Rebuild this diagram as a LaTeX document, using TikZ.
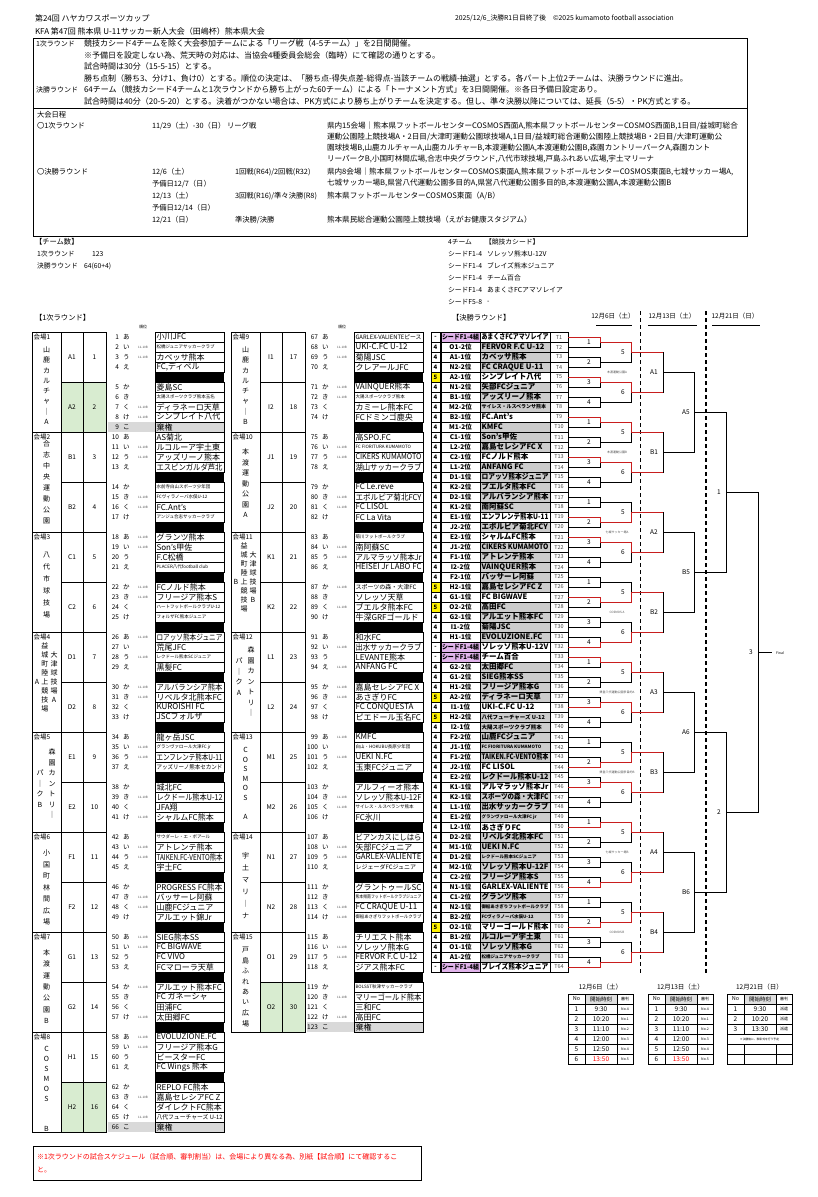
\documentclass[tikz,border=0pt]{standalone}
\usepackage{fontspec}
\usepackage{graphicx}
\setmainfont{Noto Sans CJK JP}
\usetikzlibrary{calc}
\definecolor{seedpink}{RGB}{225,180,235}
\definecolor{grp}{RGB}{216,236,208}
\definecolor{rline}{RGB}{200,30,30}
\newcommand\fs[1]{\fontsize{#1}{#1}\selectfont}
\newsavebox\nb
\newcommand\fitw[2]{\sbox\nb{#2}\ifdim\wd\nb>#1\relax\resizebox{#1}{\height}{\usebox\nb}\else\usebox\nb\fi}
\newcommand\szn{\fs{8}}
\newcommand\szs{\fs{6}}
\newcommand\szt{\fs{4.5}}
% team row in 1st-round table
\newcommand\team[7]{%
 \pgfmathsetmacro\yy{337+10*#2}%
 \node[anchor=east,font=\fs{6.5}] (num#3) at ({#1+119},\yy) {#3};
 \node[anchor=west,font=\fs{6.5}] (kana#3) at ({#1+123},\yy) {#4};
 \ifnum#5=1 \node[font=\fs{3},text=black!70] (lab#3) at ({#1+143},\yy) {11-10B};\fi
 \node[tbox] (tm#3) at ({#1+189.5},\yy) {\makebox[66pt][l]{\csname sz#6\endcsname\fitw{66pt}{#7}}};}
\newcommand\blkrow[2]{\fill ({#1+155},{332+10*#2}) rectangle ({#1+224},{342+10*#2});}
\newcommand\kiken[3]{%
 \pgfmathsetmacro\yy{337+10*#2}%
 \fill[gray!30] ({#1+108},{332+10*#2}) rectangle ({#1+224},{342+10*#2});
 \node[anchor=east,font=\fs{6.5}] (num#3) at ({#1+119},\yy) {#3};
 \node[anchor=west,font=\fs{6.5}] (kana#3) at ({#1+123},\yy) {こ};
 \node[tbox,fill=gray!30] (tm#3) at ({#1+189.5},\yy) {\makebox[66pt][l]{\szn 棄権}};}
% venue cell
\newcommand\venue[4]{% off, row0, name, label
 \draw[thick] ({#1+32},{332+10*#2}) rectangle ({#1+61},{432+10*#2});
 \node[anchor=west,font=\fs{6.5}] (#3) at ({#1+33.5},{337.5+10*#2}) {#4};}
\newcommand\vch[5]{\foreach \c [count=\i from 0] in {#5} {\node[font=\fs{7}] (#1\i) at (#2,{#3+#4*\i}) {\c};}}
% group cells
\newcommand\grp[5]{% off,row0,label,num,fill
 \draw[thick,fill=#5] ({#1+61},{332+10*#2}) rectangle ({#1+83},{382+10*#2});
 \draw[thick,fill=#5] ({#1+83},{332+10*#2}) rectangle ({#1+106},{382+10*#2});
 \node[font=\fs{6.5}] (g#3) at ({#1+72},{357+10*#2}) {#3};
 \node[font=\fs{6.5}] (gn#3) at ({#1+94.5},{357+10*#2}) {#4};}
% bracket list row
\newcommand\bl[7]{%
 \pgfmathsetmacro\yy{337+10*(#1-1)}%
 \node[stbox,#2] (st#1) at (435.5,\yy) {#3};
 \node[lbbox,#5] (lb#1) at (460.5,\yy) {\fitw{37pt}{#4}};
 \node[btbox,#7] (bt#1) at (515,\yy) {\makebox[67pt][l]{\fitw{67pt}{#6}}};
 \node[tcbox] (tc#1) at (559,\yy) {T#1};}
\begin{document}
\begin{tikzpicture}[x=1pt,y=-1pt,every node/.style={inner sep=0pt,outer sep=0pt},
 tbox/.style={draw,line width=0.7pt,minimum width=69pt,minimum height=10pt,anchor=center},
 stbox/.style={draw,line width=0.7pt,minimum width=9pt,minimum height=10pt,font=\fs{6}\bfseries},
 lbbox/.style={draw,line width=0.7pt,minimum width=39pt,minimum height=10pt,font=\fs{6.5}\bfseries},
 btbox/.style={draw,line width=0.7pt,minimum width=70pt,minimum height=10pt,font=\fs{7.5}\bfseries},
 tcbox/.style={draw,line width=0.7pt,minimum width=18pt,minimum height=10pt,font=\fs{5.5},text=black!70},
 wh/.style={fill=white}, gy/.style={fill=gray!40}, sd/.style={fill=seedpink}, yl/.style={fill=yellow},
 bk/.style={line width=0.6pt}, rd/.style={line width=0.8pt,draw=rline},
 mlbl/.style={font=\fs{6.5}},
 hd/.style={anchor=west,font=\fs{7.3}},
 sm/.style={anchor=west,font=\fs{6.8}},
 rl/.style={anchor=west,font=\fs{8}},
 rlab/.style={anchor=west,font=\fs{7}},
 vt/.style={anchor=west,font=\fs{7.6}}]
\fill[white] (0,0) rectangle (818,1197);
\useasboundingbox (0,0) rectangle (818,1197);
% ---------- header
\node[anchor=west,font=\fs{8}] (title1) at (35,18) {第24回 ハヤカワスポーツカップ};
\node[anchor=west,font=\fs{8}] (title2) at (35,31) {KFA 第47回 熊本県 U-11サッカー新人大会（田嶋杯）熊本県大会};
\node[anchor=west,font=\fs{6.8}] (stamp) at (455,18) {2025/12/6\_決勝R1日目終了後　©2025 kumamoto football association};
% ---------- rules box
\draw[thick] (33,38) rectangle (747,108);
\node[rlab] (r1a) at (36,43.5) {1次ラウンド};
\node[rl] (r1b) at (84,43.5) {競技カシード4チームを除く大会参加チームによる「リーグ戦（4-5チーム）」を2日間開催。};
\node[rl] (r2) at (84,55) {※予備日を設定しない為、荒天時の対応は、当協会4種委員会総会（臨時）にて確認の通りとする。};
\node[rl] (r3) at (84,66.5) {試合時間は30分（15-5-15）とする。};
\node[rl] (r4) at (84,78) {勝ち点制（勝ち3、分け1、負け0）とする。順位の決定は、「勝ち点-得失点差-総得点-当該チームの戦績-抽選」とする。各パート上位2チームは、決勝ラウンドに進出。};
\node[rlab] (r5a) at (36,89.5) {決勝ラウンド};
\node[rl] (r5b) at (84,89.5) {64チーム（競技カシード4チームと1次ラウンドから勝ち上がった60チーム）による「トーナメント方式」を3日間開催。※各日予備日設定あり。};
\node[rl] (r6) at (84,101) {試合時間は40分（20-5-20）とする。決着がつかない場合は、PK方式により勝ち上がりチームを決定する。但し、準々決勝以降については、延長（5-5）・PK方式とする。};
% ---------- schedule box
\draw[thick] (33,108) rectangle (747,236);
\node[hd] (s0) at (37,115) {大会日程};
\node[hd] (s1) at (37,126) {〇1次ラウンド};
\node[hd] (s1d) at (152,126) {11/29（土）-30（日） リーグ戦};
\node[vt] (s1v1) at (327,126) {県内15会場｜熊本県フットボールセンターCOSMOS西面A,熊本県フットボールセンターCOSMOS西面B,1日目/益城町総合};
\node[vt] (s1v2) at (327,137) {運動公園陸上競技場A・2日目/大津町運動公園球技場A,1日目/益城町総合運動公園陸上競技場B・2日目/大津町運動公};
\node[vt] (s1v3) at (327,148) {園球技場B,山鹿カルチャーA,山鹿カルチャーB,本渡運動公園A,本渡運動公園B,森園カントリーパークA,森園カント};
\node[vt] (s1v4) at (327,159) {リーパークB,小国町林間広場,合志中央グラウンド,八代市球技場,戸島ふれあい広場,宇土マリーナ};
\node[hd] (s2) at (37,172) {〇決勝ラウンド};
\node[hd] (s2d) at (152,172) {12/6（土）};
\node[hd] (s2r) at (235,172) {1回戦(R64)/2回戦(R32)};
\node[vt] (s2v1) at (327,172) {県内8会場｜熊本県フットボールセンターCOSMOS東面A,熊本県フットボールセンターCOSMOS東面B,七城サッカー場A,};
\node[vt] (s2v2) at (327,183) {七城サッカー場B,県営八代運動公園多目的A,県営八代運動公園多目的B,本渡運動公園A,本渡運動公園B};
\node[hd] (s2p) at (152,184) {予備日12/7（日）};
\node[hd] (s3d) at (152,196) {12/13（土）};
\node[hd] (s3r) at (235,196) {3回戦(R16)/準々決勝(R8)};
\node[vt] (s3v) at (327,196) {熊本県フットボールセンターCOSMOS東面（A/B）};
\node[hd] (s3p) at (152,208) {予備日12/14（日）};
\node[hd] (s4d) at (152,220) {12/21（日）};
\node[hd] (s4r) at (235,220) {準決勝/決勝};
\node[vt] (s4v) at (327,220) {熊本県民総合運動公園陸上競技場（えがお健康スタジアム）};
% ---------- team counts
\node[hd] (c0) at (35,242) {【チーム数】};
\node[sm] (c1) at (37,254) {1次ラウンド};
\node[sm] (c1n) at (92,254) {123};
\node[sm] (c2) at (37,266) {決勝ラウンド};
\node[sm] (c2n) at (84,266) {64(60+4)};
\node[sm] (k0) at (448,242) {4チーム};
\node[sm] (k0b) at (485,242) {【競技カシード】};
\node[sm] (k1) at (448,254) {シードF1-4};
\node[sm] (k1b) at (487,254) {ソレッソ熊本U-12V};
\node[sm] (k2) at (448,266) {シードF1-4};
\node[sm] (k2b) at (487,266) {ブレイズ熊本ジュニア};
\node[sm] (k3) at (448,278) {シードF1-4};
\node[sm] (k3b) at (487,278) {チーム百合};
\node[sm] (k4) at (448,290) {シードF1-4};
\node[sm] (k4b) at (487,290) {あまくさFCアマソレイア};
\node[sm] (k5) at (448,302) {シードF5-8};
\node[sm] (k5b) at (487,302) {-};
\node[hd] (sec1) at (35,318) {【1次ラウンド】};
\node[hd] (sec2) at (452,318) {【決勝ラウンド】};
\node[font=\fs{4}] (jun1) at (143,327) {順位};
\node[font=\fs{4}] (jun2) at (342,327) {順位};
% ---------- block 1 venues & groups
\venue{0}{0}{v1}{会場1}\vch{va}{46.5}{350}{10.3}{山,鹿,カ,ル,チ,ャ,｜,A}
\venue{0}{10}{v2}{会場2}\vch{vb}{46.5}{444}{11}{合,志,中,央,運,動,公,園}
\venue{0}{20}{v3}{会場3}\vch{vc}{46.5}{555}{12}{八,代,市,球,技,場}
\venue{0}{30}{v4}{会場4}\vch{vd}{45}{646}{9}{益,城,町,陸,上,競,技,場}\vch{vdd}{54}{655}{9}{大,津,球,技,場,A}\node[font=\fs{7}] (vdA) at (37,682) {A};
\venue{0}{40}{v5}{会場5}\vch{ve}{52}{752}{10.5}{森,園,カ,ン,ト,リ,｜}\vch{vee}{40}{773}{10.5}{パ,｜,ク,B}
\venue{0}{50}{v6}{会場6}\vch{vf}{46.5}{853}{11.5}{小,国,町,林,間,広,場}
\venue{0}{60}{v7}{会場7}\vch{vg}{46.5}{953}{11.3}{本,渡,運,動,公,園,B}
\venue{0}{70}{v8}{会場8}\vch{vh}{46.5}{1049}{10}{C,O,S,M,O,S,,,B}
\grp{0}{0}{A1}{1}{white}\grp{0}{5}{A2}{2}{grp}
\grp{0}{10}{B1}{3}{white}\grp{0}{15}{B2}{4}{white}
\grp{0}{20}{C1}{5}{white}\grp{0}{25}{C2}{6}{white}
\grp{0}{30}{D1}{7}{white}\grp{0}{35}{D2}{8}{white}
\grp{0}{40}{E1}{9}{white}\grp{0}{45}{E2}{10}{white}
\grp{0}{50}{F1}{11}{white}\grp{0}{55}{F2}{12}{white}
\grp{0}{60}{G1}{13}{white}\grp{0}{65}{G2}{14}{white}
\grp{0}{70}{H1}{15}{white}\grp{0}{75}{H2}{16}{grp}
% block 1 teams
\team{0}{0}{1}{あ}{0}{n}{小川JFC}
\team{0}{1}{2}{い}{1}{t}{松橋ジュニアサッカークラブ}
\team{0}{2}{3}{う}{1}{n}{カベッサ熊本}
\team{0}{3}{4}{え}{0}{n}{FC,ディベル}
\blkrow{0}{4}
\team{0}{5}{5}{か}{0}{n}{菱島SC}
\team{0}{6}{6}{き}{0}{t}{太陽スポーツクラブ熊本玉名}
\team{0}{7}{7}{く}{1}{n}{ディラネーロ天草}
\team{0}{8}{8}{け}{1}{n}{シンプレイト八代}
\kiken{0}{9}{9}
\team{0}{10}{10}{あ}{0}{n}{AS菊北}
\team{0}{11}{11}{い}{1}{n}{ルコルーア宇土東}
\team{0}{12}{12}{う}{1}{n}{アッズリーノ熊本}
\team{0}{13}{13}{え}{0}{n}{エスピンガルダ芦北}
\blkrow{0}{14}
\team{0}{15}{14}{か}{0}{t}{水前寺白山スポーツ少年団}
\team{0}{16}{15}{き}{1}{t}{FCヴィラノーバ水俣U-12}
\team{0}{17}{16}{く}{1}{n}{FC.Ant's}
\team{0}{18}{17}{け}{0}{t}{アンジュ合志サッカークラブ}
\blkrow{0}{19}
\team{0}{20}{18}{あ}{1}{n}{グランツ熊本}
\team{0}{21}{19}{い}{1}{n}{Son's甲佐}
\team{0}{22}{20}{う}{0}{n}{F.C松橋}
\team{0}{23}{21}{え}{0}{t}{PLACER八代football club}
\blkrow{0}{24}
\team{0}{25}{22}{か}{1}{n}{FCノルド熊本}
\team{0}{26}{23}{き}{1}{n}{フリージア熊本S}
\team{0}{27}{24}{く}{0}{t}{ハートフットボールクラブU-12}
\team{0}{28}{25}{け}{0}{t}{フォルザFC熊本ジュニア}
\blkrow{0}{29}
\team{0}{30}{26}{あ}{1}{n}{ロアッソ熊本ジュニア}
\team{0}{31}{27}{い}{0}{n}{荒尾JFC}
\team{0}{32}{28}{う}{1}{t}{レクドール熊本SCジュニア}
\team{0}{33}{29}{え}{0}{n}{黒髪FC}
\blkrow{0}{34}
\team{0}{35}{30}{か}{1}{n}{アルバランシア熊本}
\team{0}{36}{31}{き}{1}{n}{リベルタ北熊本FC}
\team{0}{37}{32}{く}{0}{n}{KUROISHI FC}
\team{0}{38}{33}{け}{0}{n}{JSCフォルザ}
\blkrow{0}{39}
\team{0}{40}{34}{あ}{0}{n}{龍ヶ岳JSC}
\team{0}{41}{35}{い}{1}{t}{グランヴァロール大津FC jr}
\team{0}{42}{36}{う}{1}{n}{エンフレンテ熊本U-11}
\team{0}{43}{37}{え}{0}{s}{アッズリーノ熊本セカンド}
\blkrow{0}{44}
\team{0}{45}{38}{か}{0}{n}{城北FC}
\team{0}{46}{39}{き}{1}{n}{レクドール熊本U-12}
\team{0}{47}{40}{く}{0}{n}{JFA翔}
\team{0}{48}{41}{け}{1}{n}{シャルムFC熊本}
\blkrow{0}{49}
\team{0}{50}{42}{あ}{0}{t}{サウダーレ・エ・ボアール}
\team{0}{51}{43}{い}{1}{n}{アトレンテ熊本}
\team{0}{52}{44}{う}{1}{n}{TAIKEN.FC-VENTO熊本}
\team{0}{53}{45}{え}{0}{n}{宇土FC}
\blkrow{0}{54}
\team{0}{55}{46}{か}{0}{n}{PROGRESS FC熊本}
\team{0}{56}{47}{き}{1}{n}{バッサーレ阿蘇}
\team{0}{57}{48}{く}{1}{n}{山鹿FCジュニア}
\team{0}{58}{49}{け}{0}{n}{アルエット錦Jr}
\blkrow{0}{59}
\team{0}{60}{50}{あ}{1}{n}{SIEG熊本SS}
\team{0}{61}{51}{い}{1}{n}{FC BIGWAVE}
\team{0}{62}{52}{う}{0}{n}{FC VIVO}
\team{0}{63}{53}{え}{0}{n}{FCマローラ天草}
\blkrow{0}{64}
\team{0}{65}{54}{か}{1}{n}{アルエット熊本FC}
\team{0}{66}{55}{き}{0}{n}{FC ガネーシャ}
\team{0}{67}{56}{く}{0}{n}{田浦FC}
\team{0}{68}{57}{け}{1}{n}{太田郷FC}
\blkrow{0}{69}
\team{0}{70}{58}{あ}{1}{n}{EVOLUZIONE.FC}
\team{0}{71}{59}{い}{1}{n}{フリージア熊本G}
\team{0}{72}{60}{う}{0}{n}{ビースターFC}
\team{0}{73}{61}{え}{0}{n}{FC Wings 熊本}
\blkrow{0}{74}
\team{0}{75}{62}{か}{0}{n}{REPLO FC熊本}
\team{0}{76}{63}{き}{1}{n}{嘉島セレシアFC Z}
\team{0}{77}{64}{く}{0}{n}{ダイレクトFC熊本}
\team{0}{78}{65}{け}{1}{s}{八代フューチャーズ U-12}
\kiken{0}{79}{66}
% ---------- block 2 venues & groups
\venue{199}{0}{v9}{会場9}\vch{vi}{245.5}{350}{10.3}{山,鹿,カ,ル,チ,ャ,｜,B}
\venue{199}{10}{v10}{会場10}\vch{vj}{245.5}{452}{10.5}{本,渡,運,動,公,園,A}
\venue{199}{20}{v11}{会場11}\vch{vk}{244}{546}{9}{益,城,町,陸,上,競,技,場}\vch{vkk}{253}{555}{9}{大,津,球,技,場,B}\node[font=\fs{7}] (vkB) at (236,582) {B};
\venue{199}{30}{v12}{会場12}\vch{vl}{251}{650}{10.5}{森,園,カ,ン,ト,リ,｜}\vch{vll}{239}{661}{10.5}{パ,｜,ク,A}
\venue{199}{40}{v13}{会場13}\vch{vm}{245.5}{750}{9.5}{C,O,S,M,O,S,,A}
\venue{199}{50}{v14}{会場14}\vch{vn}{245.5}{856}{12}{宇,土,マ,リ,｜,ナ}
\venue{199}{60}{v15}{会場15}\vch{vo}{245.5}{950}{10.5}{戸,島,ふ,れ,あ,い,広,場}
\grp{199}{0}{I1}{17}{white}\grp{199}{5}{I2}{18}{white}
\grp{199}{10}{J1}{19}{white}\grp{199}{15}{J2}{20}{white}
\grp{199}{20}{K1}{21}{white}\grp{199}{25}{K2}{22}{white}
\grp{199}{30}{L1}{23}{white}\grp{199}{35}{L2}{24}{white}
\grp{199}{40}{M1}{25}{white}\grp{199}{45}{M2}{26}{white}
\grp{199}{50}{N1}{27}{white}\grp{199}{55}{N2}{28}{white}
\grp{199}{60}{O1}{29}{white}\grp{199}{65}{O2}{30}{grp}
% block 2 teams
\team{199}{0}{67}{あ}{0}{s}{GARLEX-VALIENTEピース}
\team{199}{1}{68}{い}{1}{n}{UKI-C.FC U-12}
\team{199}{2}{69}{う}{1}{n}{菊陽JSC}
\team{199}{3}{70}{え}{0}{n}{クレアールJFC}
\blkrow{199}{4}
\team{199}{5}{71}{か}{1}{n}{VAINQUER熊本}
\team{199}{6}{72}{き}{1}{t}{大陽スポーツクラブ熊本}
\team{199}{7}{73}{く}{0}{n}{カミーレ熊本FC}
\team{199}{8}{74}{け}{0}{n}{FCドミンゴ鹿央}
\blkrow{199}{9}
\team{199}{10}{75}{あ}{0}{n}{高SPO.FC}
\team{199}{11}{76}{い}{1}{t}{FC FIORITURA KUMAMOTO}
\team{199}{12}{77}{う}{1}{n}{CIKERS KUMAMOTO}
\team{199}{13}{78}{え}{0}{n}{湖山サッカークラブ}
\blkrow{199}{14}
\team{199}{15}{79}{か}{0}{n}{FC Le.reve}
\team{199}{16}{80}{き}{1}{n}{エボルピア菊北FCY}
\team{199}{17}{81}{く}{1}{n}{FC LISOL}
\team{199}{18}{82}{け}{0}{n}{FC La Vita}
\blkrow{199}{19}
\team{199}{20}{83}{あ}{0}{t}{菊川フットボールクラブ}
\team{199}{21}{84}{い}{1}{n}{南阿蘇SC}
\team{199}{22}{85}{う}{1}{n}{アルマラッソ熊本Jr}
\team{199}{23}{86}{え}{0}{n}{HEISEI Jr LABO FC}
\blkrow{199}{24}
\team{199}{25}{87}{か}{1}{s}{スポーツの森・大津FC}
\team{199}{26}{88}{き}{0}{n}{ソレッソ天草}
\team{199}{27}{89}{く}{1}{n}{ブエルタ熊本FC}
\team{199}{28}{90}{け}{0}{n}{牛深GRFゴールド}
\blkrow{199}{29}
\team{199}{30}{91}{あ}{0}{n}{和水FC}
\team{199}{31}{92}{い}{1}{n}{出水サッカークラブ}
\team{199}{32}{93}{う}{0}{n}{LEVANTE熊本}
\team{199}{33}{94}{え}{1}{n}{ANFANG FC}
\blkrow{199}{34}
\team{199}{35}{95}{か}{1}{n}{嘉島セレシアFC X}
\team{199}{36}{96}{き}{1}{n}{あさぎりFC}
\team{199}{37}{97}{く}{0}{n}{FC CONQUESTA}
\team{199}{38}{98}{け}{0}{n}{ピエドール玉名FC}
\blkrow{199}{39}
\team{199}{40}{99}{あ}{1}{n}{KMFC}
\team{199}{41}{100}{い}{0}{t}{白山・HOKUBU長原少年団}
\team{199}{42}{101}{う}{1}{n}{UEKI N.FC}
\team{199}{43}{102}{え}{0}{n}{玉東FCジュニア}
\blkrow{199}{44}
\team{199}{45}{103}{か}{0}{n}{アルフィーオ熊本}
\team{199}{46}{104}{き}{1}{n}{ソレッソ熊本U-12F}
\team{199}{47}{105}{く}{1}{t}{サイレス・ルスベランサ熊本}
\team{199}{48}{106}{け}{0}{n}{FC氷川}
\blkrow{199}{49}
\team{199}{50}{107}{あ}{0}{n}{ビアンカスにしはら}
\team{199}{51}{108}{い}{1}{n}{矢部FCジュニア}
\team{199}{52}{109}{う}{1}{n}{GARLEX-VALIENTE}
\team{199}{53}{110}{え}{0}{s}{レジェーダFCジュニア}
\blkrow{199}{54}
\team{199}{55}{111}{か}{0}{n}{グラントゥールSC}
\team{199}{56}{112}{き}{0}{t}{熊本県南フットボールクラブジュニア}
\team{199}{57}{113}{く}{1}{n}{FC CRAQUE U-11}
\team{199}{58}{114}{け}{1}{t}{御船あさぎりフットボールクラブ}
\blkrow{199}{59}
\team{199}{60}{115}{あ}{0}{n}{チリエスト熊本}
\team{199}{61}{116}{い}{1}{n}{ソレッソ熊本G}
\team{199}{62}{117}{う}{1}{n}{FERVOR F.C U-12}
\team{199}{63}{118}{え}{0}{n}{ジアス熊本FC}
\blkrow{199}{64}
\team{199}{65}{119}{か}{0}{t}{BOLSST秋津サッカークラブ}
\team{199}{66}{120}{き}{1}{n}{マリーゴールド熊本}
\team{199}{67}{121}{く}{0}{n}{三和FC}
\team{199}{68}{122}{け}{1}{n}{高田FC}
\kiken{199}{69}{123}
% ---------- bracket list
\bl{1}{}{-}{シードF1-4組}{sd}{あまくさFCアマソレイア}{wh}
\bl{2}{}{4}{O1-2位}{}{FERVOR F.C U-12}{gy}
\bl{3}{}{4}{A1-1位}{}{カベッサ熊本}{gy}
\bl{4}{}{4}{N2-2位}{}{FC CRAQUE U-11}{gy}
\bl{5}{yl}{5}{A2-1位}{}{シンプレイト八代}{wh}
\bl{6}{}{4}{N1-2位}{}{矢部FCジュニア}{gy}
\bl{7}{}{4}{B1-1位}{}{アッズリーノ熊本}{gy}
\bl{8}{}{4}{M2-2位}{}{\fs{5}サイレス・ルスベランサ熊本}{gy}
\bl{9}{}{4}{B2-1位}{}{FC.Ant's}{wh}
\bl{10}{}{4}{M1-2位}{}{KMFC}{gy}
\bl{11}{}{4}{C1-1位}{}{Son's甲佐}{gy}
\bl{12}{}{4}{L2-2位}{}{嘉島セレシアFC X}{gy}
\bl{13}{}{4}{C2-1位}{}{FCノルド熊本}{wh}
\bl{14}{}{4}{L1-2位}{}{ANFANG FC}{gy}
\bl{15}{}{4}{D1-1位}{}{ロアッソ熊本ジュニア}{gy}
\bl{16}{}{4}{K2-2位}{}{ブエルタ熊本FC}{gy}
\bl{17}{}{4}{D2-1位}{}{アルバランシア熊本}{gy}
\bl{18}{}{4}{K1-2位}{}{南阿蘇SC}{gy}
\bl{19}{}{4}{E1-1位}{}{エンフレンテ熊本U-11}{wh}
\bl{20}{}{4}{J2-2位}{}{エボルピア菊北FCY}{gy}
\bl{21}{}{4}{E2-1位}{}{シャルムFC熊本}{wh}
\bl{22}{}{4}{J1-2位}{}{CIKERS KUMAMOTO}{gy}
\bl{23}{}{4}{F1-1位}{}{アトレンテ熊本}{gy}
\bl{24}{}{4}{I2-2位}{}{VAINQUER熊本}{gy}
\bl{25}{}{4}{F2-1位}{}{バッサーレ阿蘇}{gy}
\bl{26}{yl}{5}{H2-1位}{}{嘉島セレシアFC Z}{gy}
\bl{27}{}{4}{G1-1位}{}{FC BIGWAVE}{wh}
\bl{28}{yl}{5}{O2-2位}{}{高田FC}{gy}
\bl{29}{}{4}{G2-1位}{}{アルエット熊本FC}{gy}
\bl{30}{}{4}{I1-2位}{}{菊陽JSC}{gy}
\bl{31}{}{4}{H1-1位}{}{EVOLUZIONE.FC}{gy}
\bl{32}{}{-}{シードF1-4組}{sd}{ソレッソ熊本U-12V}{wh}
\bl{33}{}{-}{シードF1-4組}{sd}{チーム百合}{wh}
\bl{34}{}{4}{G2-2位}{}{太田郷FC}{gy}
\bl{35}{}{4}{G1-2位}{}{SIEG熊本SS}{gy}
\bl{36}{}{4}{H1-2位}{}{フリージア熊本G}{gy}
\bl{37}{yl}{5}{A2-2位}{}{ディラネーロ天草}{gy}
\bl{38}{}{4}{I1-1位}{}{UKI-C.FC U-12}{wh}
\bl{39}{yl}{5}{H2-2位}{}{\fs{5.5}八代フューチャーズ U-12}{gy}
\bl{40}{}{4}{I2-1位}{}{\fs{5.5}大陽スポーツクラブ熊本}{gy}
\bl{41}{}{4}{F2-2位}{}{山鹿FCジュニア}{gy}
\bl{42}{}{4}{J1-1位}{}{\fs{4.5}FC FIORITURA KUMAMOTO}{gy}
\bl{43}{}{4}{F1-2位}{}{TAIKEN.FC-VENTO熊本}{gy}
\bl{44}{}{4}{J2-1位}{}{FC LISOL}{wh}
\bl{45}{}{4}{E2-2位}{}{レクドール熊本U-12}{gy}
\bl{46}{}{4}{K1-1位}{}{アルマラッソ熊本Jr}{wh}
\bl{47}{}{4}{K2-1位}{}{スポーツの森・大津FC}{gy}
\bl{48}{}{4}{L1-1位}{}{出水サッカークラブ}{gy}
\bl{49}{}{4}{E1-2位}{}{\fs{4.5}グランヴァロール大津FC jr}{gy}
\bl{50}{}{4}{L2-1位}{}{あさぎりFC}{wh}
\bl{51}{}{4}{D2-2位}{}{リベルタ北熊本FC}{gy}
\bl{52}{}{4}{M1-1位}{}{UEKI N.FC}{gy}
\bl{53}{}{4}{D1-2位}{}{\fs{4.5}レクドール熊本SCジュニア}{gy}
\bl{54}{}{4}{M2-1位}{}{ソレッソ熊本U-12F}{gy}
\bl{55}{}{4}{C2-2位}{}{フリージア熊本S}{gy}
\bl{56}{}{4}{N1-1位}{}{GARLEX-VALIENTE}{wh}
\bl{57}{}{4}{C1-2位}{}{グランツ熊本}{gy}
\bl{58}{}{4}{N2-1位}{}{\fs{4.5}御船あさぎりフットボールクラブ}{gy}
\bl{59}{}{4}{B2-2位}{}{\fs{4.5}FCヴィラノーバ水俣U-12}{gy}
\bl{60}{yl}{5}{O2-1位}{}{マリーゴールド熊本}{wh}
\bl{61}{}{4}{B1-2位}{}{ルコルーア宇土東}{gy}
\bl{62}{}{4}{O1-1位}{}{ソレッソ熊本G}{gy}
\bl{63}{}{4}{A1-2位}{}{\fs{4.5}松橋ジュニアサッカークラブ}{gy}
\bl{64}{}{-}{シードF1-4組}{sd}{ブレイズ熊本ジュニア}{wh}
% ---------- bracket
\node[font=\fs{6.5}] (d1) at (613,316) {12月6日（土）};
\node[font=\fs{6.5}] (d2) at (672,316) {12月13日（土）};
\node[font=\fs{6.5}] (d3) at (735,316) {12月21日（日）};
\draw[thick] (596,325) -- (632,325);
\draw[thick] (648,325) -- (697,325);
\draw[thick] (712,325) -- (760,325);
\draw[line width=1.6pt,dash pattern=on 4pt off 3pt] (640.5,311) -- (640.5,975);
\draw[line width=1.6pt,dash pattern=on 4pt off 3pt] (706,311) -- (706,975);
\foreach \m in {0,...,31}{
 \pgfmathtruncatemacro\ka{2*\m+1}\pgfmathtruncatemacro\kb{2*\m+2}
 \pgfmathtruncatemacro\mlab{mod(\m,4)+1}
 \coordinate (ra\m) at (600,{342+20*\m});
 \node[mlbl] (rla\m) at (589,{342+20*\m}) {\mlab};
 \draw[bk] (tc\ka.east) -| (ra\m);
 \draw[bk] (tc\kb.east) -| (ra\m);
}
\foreach \n in {0,...,15}{
 \pgfmathtruncatemacro\ma{2*\n}\pgfmathtruncatemacro\mb{2*\n+1}
 \pgfmathtruncatemacro\mlab{mod(\n,2)+5}
 \coordinate (rb\n) at (631,{352+40*\n});
 \node[mlbl] (rlb\n) at (623,{352+40*\n}) {\mlab};
 \draw[bk] (ra\ma) -| (rb\n);
 \draw[bk] (ra\mb) -| (rb\n);
}
\foreach \n/\t in {0/A1,1/B1,2/A2,3/B2,4/A3,5/B3,6/A4,7/B4}{
 \pgfmathtruncatemacro\ma{2*\n}\pgfmathtruncatemacro\mb{2*\n+1}
 \coordinate (rc\n) at (663,{372+80*\n});
 \node[mlbl] (rlc\n) at (654,{372+80*\n}) {\t};
 \draw[bk] (rb\ma) -| (rc\n);
 \draw[bk] (rb\mb) -| (rc\n);
}
\foreach \n/\t in {0/A5,1/B5,2/A6,3/B6}{
 \pgfmathtruncatemacro\ma{2*\n}\pgfmathtruncatemacro\mb{2*\n+1}
 \coordinate (rd\n) at (694,{412+160*\n});
 \node[mlbl] (rld\n) at (686,{412+160*\n}) {\t};
 \draw[bk] (rc\ma) -| (rd\n);
 \draw[bk] (rc\mb) -| (rd\n);
}
\foreach \n/\t in {0/1,1/2}{
 \pgfmathtruncatemacro\ma{2*\n}\pgfmathtruncatemacro\mb{2*\n+1}
 \coordinate (re\n) at (726,{492+320*\n});
 \node[mlbl] (rle\n) at (719,{492+320*\n}) {\t};
 \draw[bk] (rd\ma) -| (re\n);
 \draw[bk] (rd\mb) -| (re\n);
}
\coordinate (rf) at (758,652);
\node[mlbl] (rlf) at (751,652) {3};
\draw[bk] (re0) -| (rf);
\draw[bk] (re1) -| (rf);
\coordinate (rfin) at (772,652);
\draw[bk] (rf) -- (rfin);
\node[anchor=west,font=\fs{3.5}] (fin) at (776,653) {Final};
% winners' paths (red)
\foreach \q/\w in {0/1,1/1,2/1,3/1,4/3,5/1,6/3,7/4,8/1,9/2,10/4,11/2,12/2,13/4,14/4,15/4}{
 \pgfmathtruncatemacro\k{4*\q+\w}
 \pgfmathtruncatemacro\m{2*\q+ifthenelse(\w>2,1,0)}
 \pgfmathtruncatemacro\c{floor(\q/2)}
 \draw[rd] (tc\k.east) -| (ra\m);
 \draw[rd] (ra\m) -| (rb\q);
 \draw[rd] (rb\q) -- (rb\q -| rc\c);
}
\foreach \b/\t in {0/本渡運動公園A,1/本渡運動公園B,2/七城サッカー場A,3/COSMOS A,4/県営八代運動公園多目的A,5/県営八代運動公園多目的B,6/七城サッカー場B,7/COSMOS B}{
 \node[font=\fs{3},text=black!70] (bv\b) at (617,{372+80*\b}) {\t};
}
% ---------- time tables
\foreach \i/\x/\t in {1/568/12月6日（土）,2/648/12月13日（土）,3/727/12月21日（日）}{
 \node[font=\fs{6.5}] (tt\i) at ({\x+32.5},987) {\t};
 \fill[gray!25] ({\x+17},994) rectangle ({\x+49},1004);
 \draw[thick] (\x,994) rectangle ({\x+65},1064);
 \foreach \r in {1,...,6}{\draw ({\x},{994+10*\r}) -- ({\x+65},{994+10*\r});}
 \node[font=\fs{5.5}] (th\i a) at ({\x+8.5},999) {No};
 \node[font=\fs{5.5}] (th\i b) at ({\x+33},999) {開始時刻};
 \node[font=\fs{4}] (th\i c) at ({\x+57},999) {審判};
}
\foreach \x in {568,648}{
 \draw (\x+17,994) -- (\x+17,1064); \draw (\x+49,994) -- (\x+49,1064);
}
\draw (744,994) -- (744,1034); \draw (776,994) -- (776,1034);
\draw (744,1044) -- (744,1064); \draw (776,1044) -- (776,1064);
\foreach \i/\x in {1/568,2/648}{
 \foreach \r/\tm/\rf in {1/9:30/No.4,2/10:20/No.1,3/11:10/No.2,4/12:00/No.3,5/12:50/No.4}{
  \node[font=\fs{6.5}] (tn\i\r) at ({\x+8.5},{999+10*\r}) {\r};
  \node[font=\fs{6.5}] (tt\i\r) at ({\x+33},{999+10*\r}) {\tm};
  \node[font=\fs{3.5}] (tr\i\r) at ({\x+57},{999+10*\r}) {\rf};
 }
 \node[font=\fs{6.5}] (tn\i6) at ({\x+8.5},1059) {6};
 \node[font=\fs{6.5},text=red] (tt\i6) at ({\x+33},1059) {13:50};
 \node[font=\fs{3.5}] (tr\i6) at ({\x+57},1059) {No.5};
}
\foreach \r/\tm in {1/9:30,2/10:20,3/13:30}{
 \node[font=\fs{6.5}] (tn3\r) at (735.5,{999+10*\r}) {\r};
 \node[font=\fs{6.5}] (tt3\r) at (760,{999+10*\r}) {\tm};
 \node[font=\fs{4}] (tr3\r) at (784,{999+10*\r}) {派遣};
}
\node[font=\fs{2.8}] (tnote) at (759.5,1039) {※決勝後に、表彰式を行う予定};
% ---------- note
\draw[thick] (33,1146) rectangle (421,1180);
\node[anchor=west,font=\fs{7},text=red] (note1) at (37,1157) {※1次ラウンドの試合スケジュール（試合順、審判割当）は、会場により異なる為、別紙【試合順】にて確認するこ};
\node[anchor=west,font=\fs{7},text=red] (note2) at (37,1170) {と。};
\end{tikzpicture}
\end{document}
